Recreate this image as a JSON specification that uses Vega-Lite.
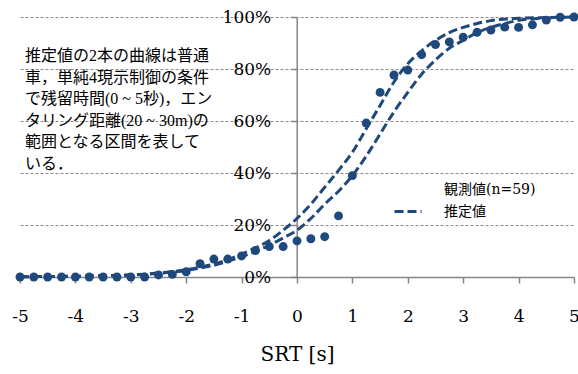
{
  "$schema": "https://vega.github.io/schema/vega-lite/v6.json",
  "width": 554,
  "height": 260,
  "autosize": {"type": "none"},
  "padding": {"left": 20, "top": 17, "right": 4, "bottom": 97},
  "background": "white",
  "config": {"view": {"stroke": null}, "font": "DejaVu Serif"},
  "datasets": {
    "obs": [
      {"x": -5, "y": 0}, {"x": -4.75, "y": 0}, {"x": -4.5, "y": 0}, {"x": -4.25, "y": 0},
      {"x": -4, "y": 0}, {"x": -3.75, "y": 0}, {"x": -3.5, "y": 0}, {"x": -3.25, "y": 0},
      {"x": -3, "y": 0}, {"x": -2.75, "y": 0}, {"x": -2.5, "y": 0.8}, {"x": -2.25, "y": 1.0},
      {"x": -2, "y": 2.0}, {"x": -1.75, "y": 5.1}, {"x": -1.5, "y": 6.9}, {"x": -1.25, "y": 6.9},
      {"x": -1, "y": 8.1}, {"x": -0.75, "y": 10.2}, {"x": -0.5, "y": 11.7}, {"x": -0.25, "y": 11.7},
      {"x": 0, "y": 13.9}, {"x": 0.25, "y": 14.7}, {"x": 0.5, "y": 15.5}, {"x": 0.75, "y": 23.5},
      {"x": 1, "y": 39}, {"x": 1.25, "y": 59.2}, {"x": 1.5, "y": 71}, {"x": 1.75, "y": 77.7},
      {"x": 2, "y": 79.6}, {"x": 2.25, "y": 85.5}, {"x": 2.5, "y": 89.4}, {"x": 2.75, "y": 90.4},
      {"x": 3, "y": 92.2}, {"x": 3.25, "y": 94.1}, {"x": 3.5, "y": 95}, {"x": 3.75, "y": 96.1},
      {"x": 4, "y": 96}, {"x": 4.25, "y": 97}, {"x": 4.5, "y": 98.8}, {"x": 4.75, "y": 99.9},
      {"x": 5, "y": 100}
    ],
    "est": [
      {"x": -5, "y": 0.1, "curve": "upper", "series": "推定値"},
      {"x": -4.5, "y": 0.2, "curve": "upper", "series": "推定値"},
      {"x": -4, "y": 0.3, "curve": "upper", "series": "推定値"},
      {"x": -3.5, "y": 0.5, "curve": "upper", "series": "推定値"},
      {"x": -3, "y": 0.8, "curve": "upper", "series": "推定値"},
      {"x": -2.75, "y": 1.1, "curve": "upper", "series": "推定値"},
      {"x": -2.5, "y": 1.5, "curve": "upper", "series": "推定値"},
      {"x": -2.25, "y": 2.1, "curve": "upper", "series": "推定値"},
      {"x": -2, "y": 2.8, "curve": "upper", "series": "推定値"},
      {"x": -1.75, "y": 3.8, "curve": "upper", "series": "推定値"},
      {"x": -1.5, "y": 5.0, "curve": "upper", "series": "推定値"},
      {"x": -1.25, "y": 6.7, "curve": "upper", "series": "推定値"},
      {"x": -1, "y": 8.8, "curve": "upper", "series": "推定値"},
      {"x": -0.75, "y": 11.2, "curve": "upper", "series": "推定値"},
      {"x": -0.5, "y": 14.0, "curve": "upper", "series": "推定値"},
      {"x": -0.25, "y": 18.0, "curve": "upper", "series": "推定値"},
      {"x": 0, "y": 22.5, "curve": "upper", "series": "推定値"},
      {"x": 0.25, "y": 28, "curve": "upper", "series": "推定値"},
      {"x": 0.5, "y": 34.5, "curve": "upper", "series": "推定値"},
      {"x": 0.75, "y": 41, "curve": "upper", "series": "推定値"},
      {"x": 1, "y": 48, "curve": "upper", "series": "推定値"},
      {"x": 1.25, "y": 57, "curve": "upper", "series": "推定値"},
      {"x": 1.5, "y": 66, "curve": "upper", "series": "推定値"},
      {"x": 1.75, "y": 75, "curve": "upper", "series": "推定値"},
      {"x": 2, "y": 82, "curve": "upper", "series": "推定値"},
      {"x": 2.25, "y": 87, "curve": "upper", "series": "推定値"},
      {"x": 2.5, "y": 91, "curve": "upper", "series": "推定値"},
      {"x": 2.75, "y": 94, "curve": "upper", "series": "推定値"},
      {"x": 3, "y": 96, "curve": "upper", "series": "推定値"},
      {"x": 3.25, "y": 97.5, "curve": "upper", "series": "推定値"},
      {"x": 3.5, "y": 98.6, "curve": "upper", "series": "推定値"},
      {"x": 4, "y": 99.5, "curve": "upper", "series": "推定値"},
      {"x": 4.5, "y": 99.8, "curve": "upper", "series": "推定値"},
      {"x": 5, "y": 100, "curve": "upper", "series": "推定値"},
      {"x": -5, "y": 0.1, "curve": "lower", "series": "推定値"},
      {"x": -4.5, "y": 0.2, "curve": "lower", "series": "推定値"},
      {"x": -4, "y": 0.3, "curve": "lower", "series": "推定値"},
      {"x": -3.5, "y": 0.5, "curve": "lower", "series": "推定値"},
      {"x": -3, "y": 0.8, "curve": "lower", "series": "推定値"},
      {"x": -2.75, "y": 1.0, "curve": "lower", "series": "推定値"},
      {"x": -2.5, "y": 1.4, "curve": "lower", "series": "推定値"},
      {"x": -2.25, "y": 1.9, "curve": "lower", "series": "推定値"},
      {"x": -2, "y": 2.5, "curve": "lower", "series": "推定値"},
      {"x": -1.75, "y": 3.4, "curve": "lower", "series": "推定値"},
      {"x": -1.5, "y": 4.5, "curve": "lower", "series": "推定値"},
      {"x": -1.25, "y": 6.0, "curve": "lower", "series": "推定値"},
      {"x": -1, "y": 7.8, "curve": "lower", "series": "推定値"},
      {"x": -0.75, "y": 9.8, "curve": "lower", "series": "推定値"},
      {"x": -0.5, "y": 12.2, "curve": "lower", "series": "推定値"},
      {"x": -0.25, "y": 15, "curve": "lower", "series": "推定値"},
      {"x": 0, "y": 18, "curve": "lower", "series": "推定値"},
      {"x": 0.25, "y": 22.5, "curve": "lower", "series": "推定値"},
      {"x": 0.5, "y": 28, "curve": "lower", "series": "推定値"},
      {"x": 0.75, "y": 33, "curve": "lower", "series": "推定値"},
      {"x": 1, "y": 39, "curve": "lower", "series": "推定値"},
      {"x": 1.25, "y": 46.5, "curve": "lower", "series": "推定値"},
      {"x": 1.5, "y": 55, "curve": "lower", "series": "推定値"},
      {"x": 1.75, "y": 63.5, "curve": "lower", "series": "推定値"},
      {"x": 2, "y": 71, "curve": "lower", "series": "推定値"},
      {"x": 2.25, "y": 78, "curve": "lower", "series": "推定値"},
      {"x": 2.5, "y": 83.5, "curve": "lower", "series": "推定値"},
      {"x": 2.75, "y": 88, "curve": "lower", "series": "推定値"},
      {"x": 3, "y": 91, "curve": "lower", "series": "推定値"},
      {"x": 3.25, "y": 94, "curve": "lower", "series": "推定値"},
      {"x": 3.5, "y": 96, "curve": "lower", "series": "推定値"},
      {"x": 3.75, "y": 97.5, "curve": "lower", "series": "推定値"},
      {"x": 4, "y": 98.7, "curve": "lower", "series": "推定値"},
      {"x": 4.5, "y": 99.6, "curve": "lower", "series": "推定値"},
      {"x": 5, "y": 100, "curve": "lower", "series": "推定値"}
    ],
    "note": [
      {"text": "推定値の2本の曲線は普通\n車，単純4現示制御の条件\nで残留時間(0 ~ 5秒)，エン\nタリング距離(20 ~ 30m)の\n範囲となる区間を表して\nいる．"}
    ]
  },
  "layer": [
    {
      "data": {"name": "est"},
      "mark": {"type": "line", "color": "#1f497d", "strokeWidth": 3, "strokeCap": "butt", "interpolate": "monotone"},
      "encoding": {
        "x": {
          "field": "x", "type": "quantitative",
          "scale": {"domain": [-5, 5], "nice": false, "zero": false},
          "axis": {
            "values": [-5, -4, -3, -2, -1, 0, 1, 2, 3, 4, 5],
            "labelExpr": "datum.value + ''",
            "title": "SRT [s]",
            "grid": false,
            "domainColor": "#868686", "domainWidth": 1.5,
            "tickColor": "#868686", "tickWidth": 1.5, "tickSize": 6,
            "labelFont": "DejaVu Serif", "labelFontSize": 17, "labelColor": "#000000",
            "labelPadding": 25, "labelFlush": false,
            "titleFont": "DejaVu Serif", "titleFontSize": 20, "titleFontWeight": "normal",
            "titleColor": "#000000", "titlePadding": 20
          }
        },
        "y": {
          "field": "y", "type": "quantitative",
          "scale": {"domain": [0, 100], "nice": false},
          "axis": {
            "values": [0, 20, 40, 60, 80, 100],
            "labelExpr": "datum.value + '%'",
            "title": null,
            "offset": -276.7,
            "grid": true, "gridColor": "#8c8c8c", "gridDash": [3, 2], "gridWidth": 1,
            "domainColor": "#868686", "domainWidth": 1.5,
            "tickColor": "#868686", "tickWidth": 1.5, "tickSize": 6,
            "labelFont": "DejaVu Serif", "labelFontSize": 17, "labelColor": "#000000",
            "labelPadding": 20
          }
        },
        "detail": {"field": "curve", "type": "nominal"},
        "strokeDash": {
          "field": "series", "type": "nominal",
          "scale": {"domain": ["観測値(n=59)", "推定値"], "range": [[1, 0], [9, 4]]},
          "legend": {
            "title": null,
            "orient": "none",
            "legendX": 373,
            "legendY": 157.5,
            "padding": 0,
            "symbolType": "stroke",
            "symbolSize": 729,
            "symbolStrokeColor": "#1f497d",
            "symbolStrokeWidth": 3,
            "symbolDash": [6, 5],
            "labelFont": "DejaVu Serif, Noto Sans CJK JP",
            "labelFontSize": 14,
            "labelColor": "#000000",
            "labelOffset": 21,
            "rowPadding": -6,
            "encode": {
              "symbols": {"update": {"strokeOpacity": {"signal": "datum.value === '推定値' ? 1 : 0"}}}
            }
          }
        }
      }
    },
    {
      "data": {"name": "obs"},
      "mark": {"type": "point", "filled": true, "size": 80, "color": "#1f497d", "opacity": 1},
      "encoding": {
        "x": {"field": "x", "type": "quantitative"},
        "y": {"field": "y", "type": "quantitative"}
      }
    },
    {
      "data": {"name": "note"},
      "mark": {
        "type": "text", "align": "left", "baseline": "alphabetic",
        "lineBreak": "\n", "lineHeight": 21.6,
        "font": "Liberation Serif, Noto Sans CJK JP", "fontSize": 16, "color": "#000000"
      },
      "encoding": {
        "x": {"datum": -4.91, "type": "quantitative"},
        "y": {"datum": 83.1, "type": "quantitative"},
        "text": {"field": "text", "type": "nominal"}
      }
    }
  ]
}
